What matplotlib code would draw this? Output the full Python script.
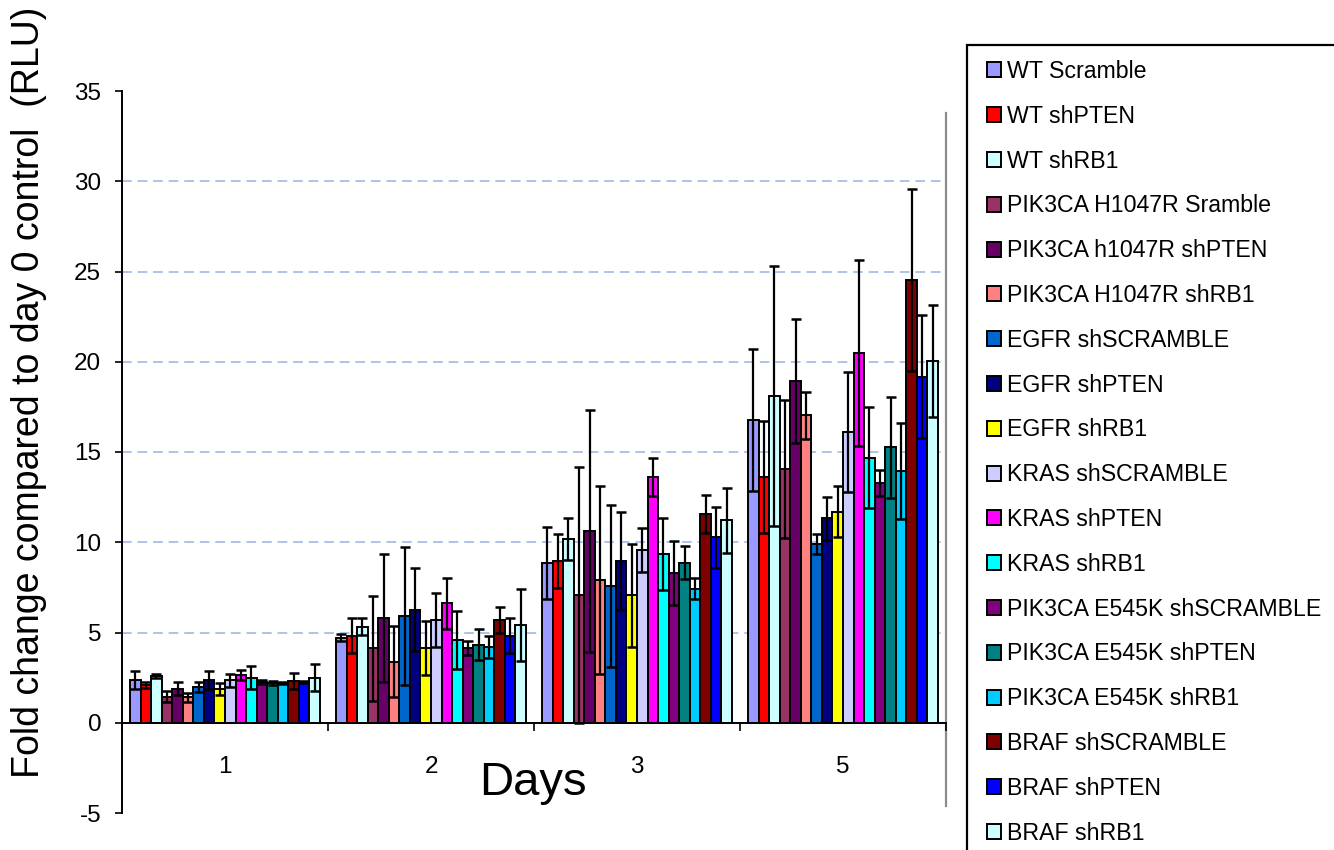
import matplotlib
matplotlib.use("Agg")
import matplotlib.pyplot as plt
import numpy as np
from matplotlib.patches import Rectangle

plt.rcParams['font.family'] = ['Liberation Sans', 'DejaVu Sans']
plt.rcParams['axes.unicode_minus'] = False

days = ['1', '2', '3', '5']
series = ['WT Scramble', 'WT shPTEN', 'WT shRB1', 'PIK3CA H1047R Sramble',
          'PIK3CA h1047R shPTEN', 'PIK3CA H1047R shRB1', 'EGFR shSCRAMBLE',
          'EGFR shPTEN', 'EGFR shRB1', 'KRAS shSCRAMBLE', 'KRAS shPTEN',
          'KRAS shRB1', 'PIK3CA E545K shSCRAMBLE', 'PIK3CA E545K shPTEN',
          'PIK3CA E545K shRB1', 'BRAF shSCRAMBLE', 'BRAF shPTEN', 'BRAF shRB1']
colors = ['#9999FF', '#FF0000', '#CCFFFF', '#993366', '#660066', '#FF8080',
          '#0066CC', '#000080', '#FFFF00', '#CCCCFF', '#FF00FF', '#00FFFF',
          '#800080', '#008080', '#00CCFF', '#800000', '#0000FF', '#CCFFFF']

day1 = [2.36, 2.10, 2.60, 1.45, 1.89, 1.40, 1.98, 2.36, 1.88, 2.35, 2.66, 2.50, 2.25, 2.20, 2.20, 2.30, 2.25, 2.50]
err1 = [0.48, 0.15, 0.10, 0.30, 0.35, 0.25, 0.25, 0.48, 0.32, 0.37, 0.28, 0.65, 0.10, 0.10, 0.05, 0.45, 0.05, 0.75]
day2 = [4.72, 4.83, 5.31, 4.13, 5.78, 3.39, 5.91, 6.26, 4.13, 5.69, 6.61, 4.57, 4.13, 4.33, 4.20, 5.69, 4.83, 5.43]
err2 = [0.20, 0.95, 0.47, 2.90, 3.55, 1.95, 3.80, 2.30, 1.50, 1.50, 1.40, 1.60, 0.40, 0.85, 0.60, 0.70, 0.95, 2.00]
day3 = [8.87, 8.96, 10.17, 7.07, 10.63, 7.91, 7.57, 8.96, 7.06, 9.57, 13.59, 9.35, 8.28, 8.87, 7.43, 11.57, 10.28, 11.22]
err3 = [2.00, 1.50, 1.15, 7.10, 6.70, 5.20, 4.50, 2.70, 2.85, 1.20, 1.05, 2.00, 1.77, 0.90, 0.60, 1.07, 1.70, 1.80]
day5 = [16.79, 13.63, 18.11, 14.06, 18.93, 17.04, 9.89, 11.33, 11.70, 16.09, 20.48, 14.67, 13.26, 15.26, 13.93, 24.52, 19.18, 20.02]
err5 = [3.93, 3.10, 7.20, 3.80, 3.45, 1.30, 0.55, 1.20, 1.40, 3.33, 5.15, 2.80, 0.72, 2.80, 2.65, 5.05, 3.40, 3.10]

values = np.array([day1, day2, day3, day5])
errors = np.array([err1, err2, err3, err5])

W, H = 1334, 850
fig = plt.figure(figsize=(W / 100, H / 100), dpi=100)
ax = fig.add_axes([122 / W, 37 / H, 824 / W, 722 / H])

n = len(series)
x = np.arange(len(days))
bw = 190 / 206 / n
handles = []
for j in range(n):
    b = ax.bar(x + (j - (n - 1) / 2) * bw, values[:, j], width=bw,
               color=colors[j], edgecolor='black', linewidth=1.4,
               yerr=errors[:, j], label=series[j], zorder=2,
               error_kw=dict(ecolor='black', elinewidth=1.6, capsize=3.6,
                             capthick=1.8, zorder=3))
    handles.append(b)

ax.set_xlim(-0.5, 3.5)
ax.set_ylim(-5, 35)

for gy in range(5, 35, 5):
    ax.axhline(gy, color='#AFC3E6', lw=1.4, ls=(0, (5, 3)), zorder=1)

ax.spines['top'].set_visible(False)
ax.spines['right'].set_visible(False)
ax.spines['bottom'].set_position(('data', 0))
ax.spines['bottom'].set_linewidth(1.4)
ax.spines['left'].set_linewidth(1.4)
ax.spines['bottom'].set_zorder(4)

ax.set_yticks(range(-5, 40, 5))
ax.tick_params(axis='y', labelsize=17.5, length=5, width=1.2, pad=10)

ax.set_xticks(np.arange(-0.5, 4.0, 1.0))
ax.set_xticklabels([])
ax.set_xticks(x, minor=True)
ax.set_xticklabels(days, minor=True)
ax.tick_params(axis='x', which='major', length=6, width=1.2, direction='out')
ax.tick_params(axis='x', which='minor', length=0, labelsize=17.5, pad=24)

# right border line
ax.plot([3.5, 3.5], [-4.6, 33.8], color='#8C8C8C', lw=1.6, clip_on=False, zorder=1)

fig.text(29 / W, 1 - 392 / H, 'Fold change compared to day 0 control  (RLU)',
         rotation=90, ha='center', va='center', fontsize=27)
fig.text(533 / W, 1 - 783 / H, 'Days', ha='center', va='center', fontsize=34)

# legend box (extends beyond figure edges)
fig.add_artist(Rectangle((967 / W, -0.05), 0.5, 1.05 - 45 / H,
                         transform=fig.transFigure, fill=False,
                         edgecolor='black', linewidth=1.6))
fig.legend(handles=handles, labels=series, loc='upper left',
           bbox_to_anchor=(987 / W, 1 - 60 / H), frameon=False,
           fontsize=16.7, handlelength=0.62, handleheight=0.62,
           handletextpad=0.25, labelspacing=0.94, borderpad=0,
           borderaxespad=0)

fig.savefig('out.png', dpi=100)
